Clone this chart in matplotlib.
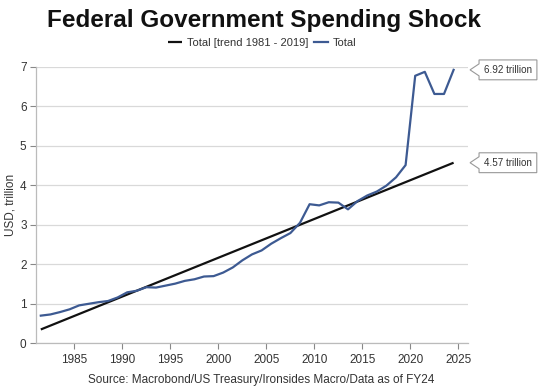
import matplotlib
matplotlib.use("Agg")
import matplotlib.pyplot as plt
from matplotlib.path import Path
from matplotlib.transforms import blended_transform_factory

plt.rcParams['font.family'] = ['Liberation Sans', 'DejaVu Sans']

years = list(range(1981, 2025))
total = [0.70, 0.73, 0.79, 0.86, 0.96, 1.00, 1.04, 1.07, 1.16, 1.29,
         1.33, 1.42, 1.41, 1.46, 1.51, 1.58, 1.62, 1.69, 1.70, 1.79,
         1.92, 2.10, 2.25, 2.35, 2.52, 2.66, 2.79, 3.05, 3.52, 3.49,
         3.57, 3.56, 3.39, 3.60, 3.74, 3.84, 3.99, 4.20, 4.51, 6.77,
         6.87, 6.31, 6.31, 6.92]
trend_years = [1981, 2024]
trend_values = [0.35, 4.57]
x_ticks = [1985, 1990, 1995, 2000, 2005, 2010, 2015, 2020, 2025]
y_ticks = [0, 1, 2, 3, 4, 5, 6, 7]

title = "Federal Government Spending Shock"
trend_label = "Total [trend 1981 - 2019]"
total_label = "Total"
y_label = "USD, trillion"
source = "Source: Macrobond/US Treasury/Ironsides Macro/Data as of FY24"

BLUE = "#3d5a92"
BLACK = "#111111"
TXT = "#333333"
GRID = "#d9d9d9"

fig = plt.figure(figsize=(5.38, 3.87), dpi=100)
ax = fig.add_axes([36/538, 1-343.3/387, (468-36)/538, (343.3-66.7)/387])

xpos = [y + 0.5 for y in years]
tpos = [y + 0.5 for y in trend_years]
l1, = ax.plot(tpos, trend_values, color=BLACK, lw=1.6, label=trend_label, solid_capstyle='butt')
l2, = ax.plot(xpos, total, color=BLUE, lw=1.6, label=total_label)

ax.set_xlim(1981, 2026)
ax.set_ylim(0, 7)
ax.set_xticks(x_ticks)
ax.set_yticks(y_ticks)
ax.grid(axis='y', color=GRID, lw=0.9)
ax.set_axisbelow(True)
for s in ['top', 'right']:
    ax.spines[s].set_visible(False)
for s in ['left', 'bottom']:
    ax.spines[s].set_color("#bbbbbb")
    ax.spines[s].set_linewidth(0.9)
ax.tick_params(axis='both', colors="#888888", labelcolor=TXT, labelsize=8.5, length=4.3, width=0.8)
ax.tick_params(axis='y', pad=2.5)
for l in ax.get_lines():
    l.set_clip_on(False)

fig.text(11/538, 1-205/387, y_label, rotation=90, ha='center', va='center', fontsize=8.5, color=TXT)
fig.text(0.49, 0.93, title, ha='center', va='baseline', fontsize=17.5, fontweight='bold', color="#111111")
fig.legend(handles=[l1, l2], loc='center', bbox_to_anchor=(0.487, 0.89), ncol=2, frameon=False,
           fontsize=8, handlelength=1.3, handletextpad=0.4, columnspacing=0.5, labelcolor=TXT)
fig.text(0.486, 0.01, source, ha='center', va='baseline', fontsize=8.5, color=TXT)


def callout(x0, y0, width, height, mutation_size):
    padx = 0.5 * mutation_size
    pady = 0.5 * mutation_size
    x0 -= padx
    y0 -= pady
    width += 2 * padx
    height += 2 * pady
    notch = 9.0
    half = 6.0
    ym = y0 + height / 2
    verts = [(x0, y0), (x0 + width, y0), (x0 + width, y0 + height), (x0, y0 + height),
             (x0, ym + half), (x0 - notch, ym), (x0, ym - half), (x0, y0)]
    codes = [Path.MOVETO] + [Path.LINETO] * 6 + [Path.CLOSEPOLY]
    return Path(verts, codes)


trans = blended_transform_factory(ax.transAxes, ax.transData)
for val in [total[-1], trend_values[-1]]:
    ax.annotate(f"{val:.2f} trillion", xy=(1.0, val), xycoords=trans,
                xytext=(11.5, 0), textcoords='offset points', ha='left', va='center',
                fontsize=7.1, color=TXT, annotation_clip=False,
                bbox=dict(boxstyle=callout, fc='white', ec="#999999", lw=0.8))

fig.savefig("out.png", dpi=100)
